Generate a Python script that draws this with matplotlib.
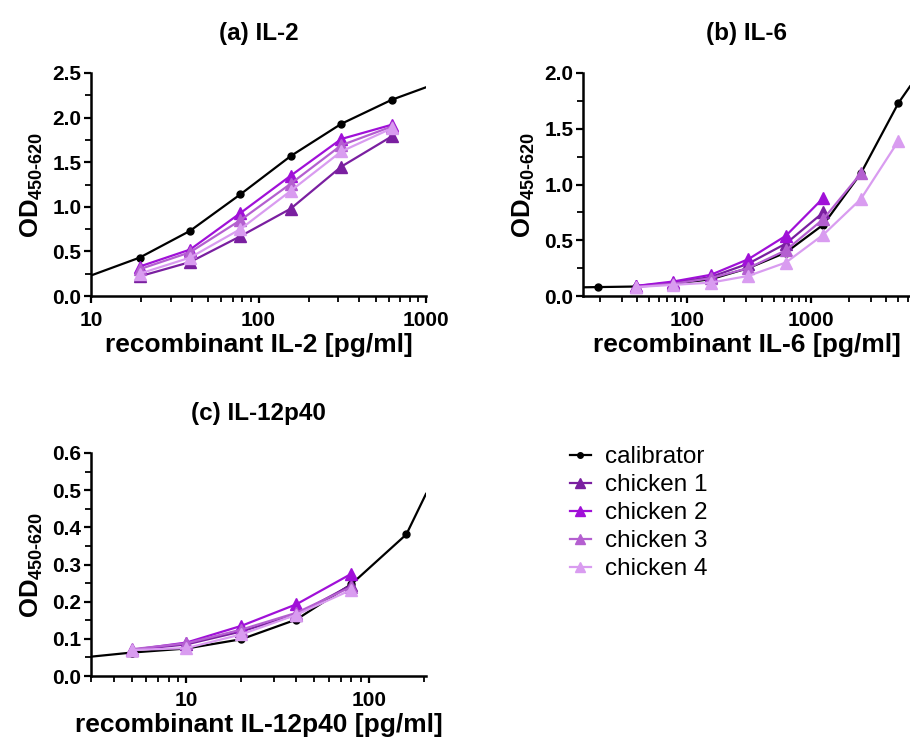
import matplotlib
matplotlib.use('Agg')
import matplotlib.pyplot as plt
from matplotlib.lines import Line2D
from matplotlib.ticker import MultipleLocator, LogLocator, NullFormatter, FixedLocator, FixedFormatter

plt.rcParams['font.family'] = ['Liberation Sans', 'DejaVu Sans']
plt.rcParams['mathtext.fontset'] = 'custom'
plt.rcParams['mathtext.rm'] = 'Liberation Sans:bold'
plt.rcParams['mathtext.bf'] = 'Liberation Sans:bold'
plt.rcParams['mathtext.default'] = 'rm'

SERIES = ['calibrator', 'chicken 1', 'chicken 2', 'chicken 3', 'chicken 4']
COLORS = ['#000000', '#7a1fa0', '#a010d8', '#b45fd0', '#d99cf0']

# (a) IL-2
il2_conc = [19.5, 39, 78, 156, 312, 625]
il2_cal = [0.43, 0.73, 1.14, 1.57, 1.93, 2.20]
il2_cal_edges = [(10, 0.23), (1000, 2.34)]
il2_ch = [
    [0.22, 0.38, 0.67, 0.98, 1.45, 1.79],
    [0.33, 0.52, 0.93, 1.35, 1.76, 1.92],
    [0.30, 0.49, 0.85, 1.26, 1.69, 1.90],
    [0.25, 0.43, 0.75, 1.18, 1.62, 1.88],
]

# (b) IL-6
il6_conc = [19.5, 39, 78, 156, 312, 625, 1250, 2500, 5000]
il6_cal = [0.08, 0.085, 0.11, 0.15, 0.25, 0.39, 0.64, 1.10, 1.73]
il6_cal_edges = [(14.7, 0.078), (6200, 1.88)]
il6_ch_conc = [
    [39, 78, 156, 312, 625, 1250],
    [39, 78, 156, 312, 625, 1250],
    [39, 78, 156, 312, 625, 1250, 2500],
    [39, 78, 156, 312, 625, 1250, 2500, 5000],
]
il6_ch = [
    [0.09, 0.12, 0.17, 0.29, 0.47, 0.75],
    [0.09, 0.13, 0.19, 0.33, 0.54, 0.88],
    [0.08, 0.11, 0.16, 0.25, 0.41, 0.69, 1.10],
    [0.08, 0.10, 0.12, 0.18, 0.30, 0.55, 0.87, 1.39],
]

# (c) IL-12p40
il12_conc = [5, 10, 20, 40, 80, 160]
il12_cal = [0.063, 0.074, 0.099, 0.152, 0.247, 0.381]
il12_cal_edges = [(3, 0.052), (205, 0.49)]
il12_ch_conc = [5, 10, 20, 40, 80]
il12_ch = [
    [0.070, 0.085, 0.120, 0.165, 0.245],
    [0.070, 0.090, 0.135, 0.193, 0.275],
    [0.072, 0.088, 0.125, 0.170, 0.240],
    [0.070, 0.075, 0.112, 0.165, 0.232],
]

W, H = 910, 740
fig = plt.figure(figsize=(W / 100, H / 100), dpi=100)


def add_ax(l, r, t, b):
    return fig.add_axes([l / W, 1 - b / H, (r - l) / W, (b - t) / H])


def style(ax, xlim, ylim, ymajor, yminor, xticks, xlabel, title):
    ax.set_xscale('log')
    ax.set_xlim(*xlim)
    ax.set_ylim(*ylim)
    for s in ['top', 'right']:
        ax.spines[s].set_visible(False)
    for s in ['left', 'bottom']:
        ax.spines[s].set_linewidth(1.8)
    ax.yaxis.set_major_locator(MultipleLocator(ymajor))
    ax.yaxis.set_minor_locator(MultipleLocator(yminor))
    ax.yaxis.set_major_formatter(plt.FuncFormatter(lambda v, p: f'{v:.1f}'))
    ax.xaxis.set_major_locator(FixedLocator(xticks))
    ax.xaxis.set_major_formatter(FixedFormatter([str(x) for x in xticks]))
    ax.xaxis.set_minor_locator(LogLocator(base=10, subs=range(2, 10)))
    ax.xaxis.set_minor_formatter(NullFormatter())
    ax.tick_params(which='major', length=5, width=1.6, labelsize=15)
    ax.tick_params(axis='x', which='major', pad=6)
    ax.tick_params(axis='y', which='major', pad=2)
    ax.tick_params(which='minor', length=4, width=1.3)
    for lab in ax.get_xticklabels() + ax.get_yticklabels():
        lab.set_fontweight('bold')
    ax.set_xlabel(xlabel, fontsize=19, fontweight='bold', labelpad=2)
    ax.set_ylabel(r'$\mathrm{OD}_{450\text{-}620}$', fontsize=18.5, labelpad=5)
    ax.set_title(title, fontsize=17.5, fontweight='bold', pad=24)


def draw(ax, conc, cal, edges, ch_conc, ch_vals):
    xs = [edges[0][0]] + list(conc) + [edges[1][0]]
    ys = [edges[0][1]] + list(cal) + [edges[1][1]]
    ax.plot(xs, ys, color=COLORS[0], lw=1.6, zorder=3)
    ax.plot(conc, cal, ls='none', marker='o', ms=5, color=COLORS[0], zorder=3)
    for i, vals in enumerate(ch_vals):
        cx = ch_conc[i] if isinstance(ch_conc[0], list) else ch_conc
        ax.plot(cx, vals, color=COLORS[i + 1], lw=1.6, marker='^', ms=8,
                zorder=4, clip_on=False)


ax_a = add_ax(91, 426, 73, 296)
draw(ax_a, il2_conc, il2_cal, il2_cal_edges, il2_conc, il2_ch)
style(ax_a, (10, 1000), (0, 2.5), 0.5, 0.25, [10, 100, 1000],
      'recombinant IL-2 [pg/ml]', '(a) IL-2')

ax_b = add_ax(583, 910, 73, 296)
draw(ax_b, il6_conc, il6_cal, il6_cal_edges, il6_ch_conc, il6_ch)
style(ax_b, (14.7, 6200), (0, 2.0), 0.5, 0.25, [100, 1000],
      'recombinant IL-6 [pg/ml]', '(b) IL-6')

ax_c = add_ax(91, 426, 453, 676)
draw(ax_c, il12_conc, il12_cal, il12_cal_edges, il12_ch_conc, il12_ch)
style(ax_c, (3, 205), (0, 0.6), 0.1, 0.05, [10, 100],
      'recombinant IL-12p40 [pg/ml]', '(c) IL-12p40')

leg_handles = [Line2D([], [], color=COLORS[0], lw=1.6, marker='o', ms=4)]
leg_handles += [Line2D([], [], color=c, lw=1.6, marker='^', ms=7) for c in COLORS[1:]]
fig.legend(leg_handles, SERIES, loc='upper left', bbox_to_anchor=(570 / W, 1 - 446 / H),
           frameon=False, fontsize=17.5, handlelength=0.85, handletextpad=0.6,
           labelspacing=0.25, borderaxespad=0, borderpad=0)

fig.savefig('out.png', dpi=100)
